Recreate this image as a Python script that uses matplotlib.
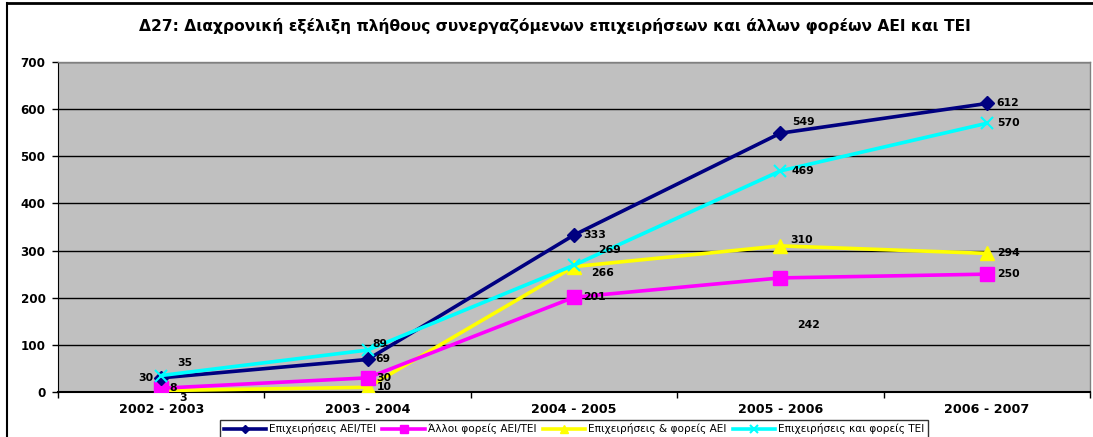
import matplotlib
matplotlib.use("Agg")
import matplotlib.pyplot as plt
from matplotlib.lines import Line2D

plt.rcParams['font.family'] = ['DejaVu Sans']

title = "Δ27: Διαχρονική εξέλιξη πλήθους συνεργαζόμενων επιχειρήσεων και άλλων φορέων ΑΕΙ και ΤΕΙ"
categories = ["2002 - 2003", "2003 - 2004", "2004 - 2005", "2005 - 2006", "2006 - 2007"]
series_names = ["Επιχειρήσεις ΑΕΙ/ΤΕΙ", "Άλλοι φορείς ΑΕΙ/ΤΕΙ",
                "Επιχειρήσεις & φορείς ΑΕΙ", "Επιχειρήσεις και φορείς ΤΕΙ"]
epix_aei_tei = [30, 69, 333, 549, 612]
alloi_aei_tei = [8, 30, 201, 242, 250]
epix_aei = [3, 10, 266, 310, 294]
epix_tei = [35, 89, 269, 469, 570]
yticks = [0, 100, 200, 300, 400, 500, 600, 700]

W, H = 1093, 437
fig = plt.figure(figsize=(W / 100, H / 100), dpi=100)
ax = fig.add_axes([58 / W, 1 - 392 / H, (1090 - 58) / W, (392 - 62) / H])
ax.set_facecolor('#C0C0C0')

x = list(range(len(categories)))
styles = [
    dict(color='#000080', marker='D', ms=7),
    dict(color='#FF00FF', marker='s', ms=10),
    dict(color='#FFFF00', marker='^', ms=10),
    dict(color='#00FFFF', marker='x', ms=9, mew=1.5),
]
data = [epix_aei_tei, alloi_aei_tei, epix_aei, epix_tei]
z = [5, 4, 3, 6]
for vals, st, name, zz in zip(data, styles, series_names, z):
    ax.plot(x, vals, lw=2.6, label=name, zorder=zz, **st)

# label offsets (pixels): (dx, dy, ha)
offsets = [
    [(-8, 0, 'right'), (8, 0, 'left'), (9, 0, 'left'), (12, 11, 'left'), (10, 0, 'left')],
    [(8, 0, 'left'), (9, 0, 'left'), (9, 0, 'left'), (17, -47, 'left'), (10, 0, 'left')],
    [(22, -7, 'center'), (9, 0, 'left'), (17, -6, 'left'), (10, 6, 'left'), (10, 0, 'left')],
    [(16, 13, 'left'), (5, 6, 'left'), (24, 15, 'left'), (11, 0, 'left'), (10, 0, 'left')],
]
for vals, offs in zip(data, offsets):
    for xi, v, (dx, dy, ha) in zip(x, vals, offs):
        ax.annotate(str(v), (xi, v), xytext=(dx, dy), textcoords='offset pixels',
                    ha=ha, va='center', fontsize=7.8, fontweight='bold', zorder=10)

ax.set_xlim(-0.5, len(categories) - 0.5)
ax.set_ylim(0, 700)
ax.set_yticks(yticks)
ax.set_yticklabels([str(t) for t in yticks], fontsize=8.6, fontweight='bold')
ax.set_xticks(x)
ax.set_xticklabels(categories, fontsize=9.2, fontweight='bold')
ax.tick_params(axis='x', length=0, pad=8)
ax.tick_params(axis='y', length=4, width=1, pad=5)
ax.set_xticks([i + 0.5 for i in range(-1, len(categories))], minor=True)
ax.tick_params(axis='x', which='minor', length=4, width=1, direction='out')
ax.grid(axis='y', color='black', lw=1, zorder=1)
ax.set_axisbelow(True)
for s in ['top', 'right']:
    ax.spines[s].set_color('#808080')
    ax.spines[s].set_linewidth(1)
ax.spines['left'].set_color('black')
ax.spines['bottom'].set_color('black')
ax.spines['bottom'].set_linewidth(1.5)

fig.text(555 / W, 1 - 26 / H, title, ha='center', va='center', fontsize=11.2, fontweight='bold')

leg = fig.legend(loc='center', bbox_to_anchor=(574 / W, 1 - 429 / H), ncol=4, fontsize=7.6,
                 frameon=True, fancybox=False, edgecolor='black', handlelength=4,
                 handletextpad=0.3, columnspacing=0.6, borderpad=0.3, markerscale=0.6)
leg.get_frame().set_linewidth(1)

fig.add_artist(Line2D([7 / W, 7 / W], [0, 1 - 3 / H], color='black', lw=1.5, transform=fig.transFigure))
fig.add_artist(Line2D([7 / W, 1], [1 - 3 / H, 1 - 3 / H], color='black', lw=2, transform=fig.transFigure))

fig.savefig('out.png', dpi=100)
